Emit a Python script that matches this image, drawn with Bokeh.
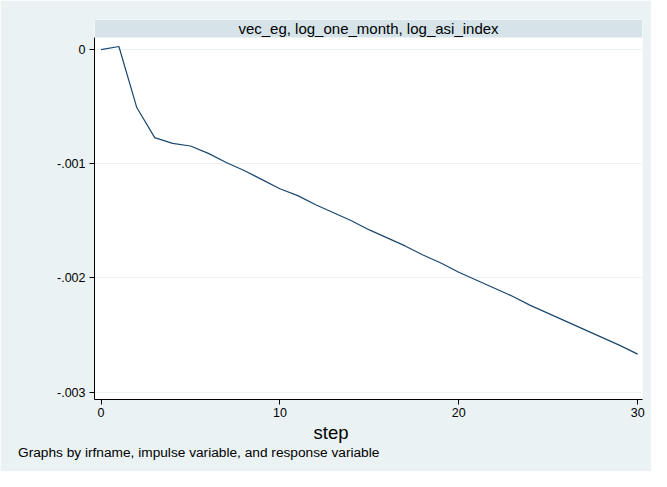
from bokeh.plotting import figure
from bokeh.models import (FixedTicker, Range1d, BoxAnnotation, Label, Title,
                          ColumnDataSource)
from bokeh.embed import file_html
from bokeh.resources import INLINE

# ---- data ----
steps = list(range(0, 31))
irf = [-0.000003, 0.000024, -0.00051, -0.000773, -0.000823, -0.000846, -0.000911,
       -0.00099, -0.00106, -0.00114, -0.00122, -0.00128, -0.00136, -0.00143,
       -0.00150, -0.00158, -0.00165, -0.00172, -0.00180, -0.00187, -0.00195,
       -0.00202, -0.00209, -0.00216, -0.00224, -0.00231, -0.00238, -0.00245,
       -0.00252, -0.00259, -0.002666]
x_ticks = [0, 10, 20, 30]
y_ticks = [0.0, -0.001, -0.002, -0.003]
y_tick_labels = ["0", "-.001", "-.002", "-.003"]
strip_title = "vec_eg, log_one_month, log_asi_index"
x_title = "step"
note = "Graphs by irfname, impulse variable, and response variable"

FONT = "Liberation Sans"
BG = "#eaf2f3"
STRIP = "#d6e4ea"
NAVY = "#1a476f"

W, H = 651, 471
ML, MR, MT, MB = 94, 9, 19, 72

X0, X1 = -0.364, 30.27
Y0, Y1 = -0.003063, 0.0001025      # plot region
YS = 0.000260                      # top of header strip

p = figure(width=W, height=H, output_backend="svg", toolbar_location=None,
           x_range=Range1d(X0, X1), y_range=Range1d(Y0, YS),
           min_border_left=ML, min_border_right=MR, min_border_top=MT,
           min_border_bottom=MB)
p.title = None
p.background_fill_color = "white"
p.border_fill_color = BG
p.outline_line_color = None

src = ColumnDataSource(dict(step=steps, irf=irf))
p.line("step", "irf", source=src, line_color=NAVY, line_width=1.2)

# axes
p.xaxis.ticker = FixedTicker(ticks=x_ticks)
p.yaxis.ticker = FixedTicker(ticks=y_ticks)
p.yaxis.major_label_overrides = {t: l for t, l in zip(y_ticks, y_tick_labels)}
p.yaxis.bounds = (Y0, Y1)
for ax in (p.xaxis[0], p.yaxis[0]):
    ax.axis_line_color = "black"
    ax.axis_line_width = 1
    ax.major_tick_line_color = "black"
    ax.major_tick_in = 0
    ax.major_tick_out = 5
    ax.minor_tick_line_color = None
    ax.major_label_text_font = FONT
    ax.major_label_text_font_size = "12.5px"
    ax.major_label_text_color = "black"
    ax.major_label_standoff = 4
p.xaxis.major_label_standoff = 3

p.xgrid.grid_line_color = None
p.ygrid.grid_line_color = BG
p.ygrid.grid_line_width = 1

# header strip (inside the frame, above the plot region)
p.add_layout(BoxAnnotation(bottom=Y1, fill_color=STRIP, fill_alpha=1.0,
                           line_color=None, level="underlay"))
p.add_layout(Label(x=(X0 + X1) / 2, y=(Y1 + YS) / 2,
                   text=strip_title, text_align="center", text_baseline="middle",
                   text_font=FONT, text_font_size="15px", text_color="black"))

# x axis title and note, as titles below the axis
p.add_layout(Title(text=x_title, align="left", offset=219, standoff=0,
                   text_font=FONT, text_font_size="18.5px",
                   text_font_style="normal", text_color="black"), "below")
p.add_layout(Title(text=note, align="left", offset=-76.5, standoff=0,
                   text_font=FONT, text_font_size="13.7px",
                   text_font_style="normal", text_color="black"), "below")

open("out.html", "w").write(file_html(p, INLINE))
